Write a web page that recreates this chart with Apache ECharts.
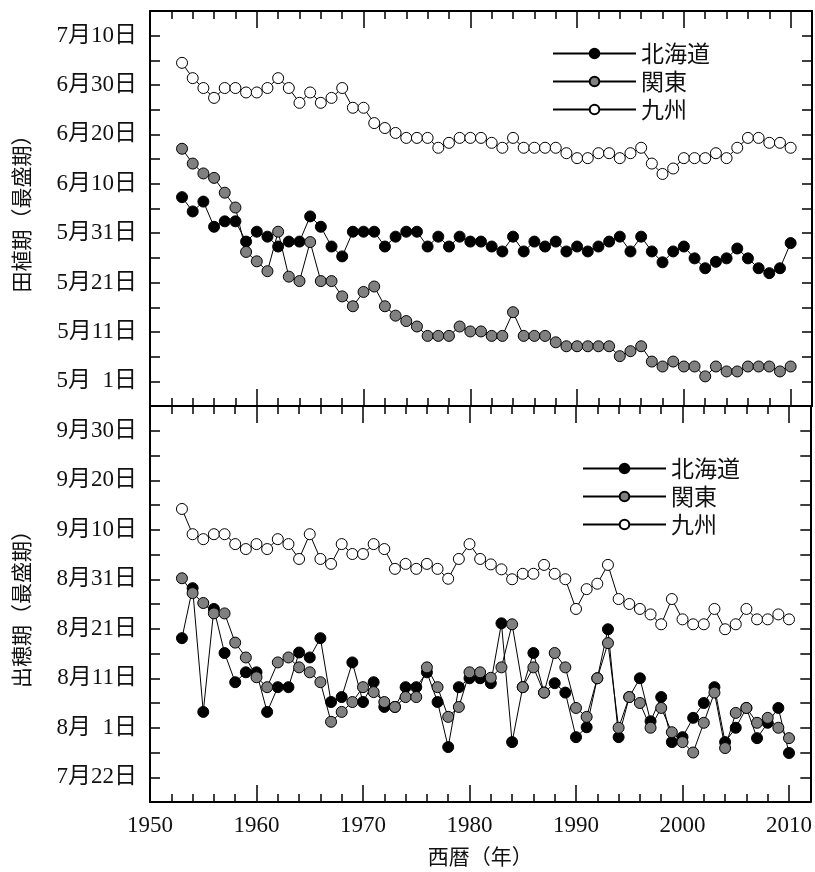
<!DOCTYPE html>
<html lang="ja">
<head>
<meta charset="UTF-8">
<title>田植期・出穂期の推移</title>
<script src="https://cdn.jsdelivr.net/npm/echarts@6/dist/echarts.min.js"></script>
<style>
    * { margin: 0; padding: 0; }
    body { background: #fff; }
    #main { width: 815px; height: 872px; }
</style>
</head>
<body>
<div id="main"></div>
<script>
    // 年（1953〜2010）
    var years = [1953, 1954, 1955, 1956, 1957, 1958, 1959, 1960, 1961, 1962,
        1963, 1964, 1965, 1966, 1967, 1968, 1969, 1970, 1971, 1972,
        1973, 1974, 1975, 1976, 1977, 1978, 1979, 1980, 1981, 1982,
        1983, 1984, 1985, 1986, 1987, 1988, 1989, 1990, 1991, 1992,
        1993, 1994, 1995, 1996, 1997, 1998, 1999, 2000, 2001, 2002,
        2003, 2004, 2005, 2006, 2007, 2008, 2009, 2010];

    // 田植期：5月1日からの日数
    var plantHokkaido = [37.3, 34.4, 36.4, 31.3, 32.4, 32.4, 28.3, 30.3, 29.3, 27.3,
        28.3, 28.3, 33.4, 31.3, 27.3, 25.3, 30.3, 30.3, 30.3, 27.3,
        29.3, 30.3, 30.3, 27.3, 29.3, 27.3, 29.3, 28.3, 28.3, 27.3,
        26.3, 29.3, 26.3, 28.3, 27.3, 28.3, 26.3, 27.3, 26.3, 27.3,
        28.3, 29.3, 26.3, 29.3, 26.3, 24.1, 26.3, 27.3, 24.9, 22.9,
        24.2, 24.9, 26.9, 24.9, 22.9, 21.9, 22.9, 28.0];
    var plantKanto = [47.1, 44.1, 42.1, 41.2, 38.2, 35.2, 26.2, 24.3, 22.3, 30.3,
        21.2, 20.3, 28.2, 20.3, 20.3, 17.2, 15.2, 18.1, 19.2, 15.2,
        13.3, 12.2, 11.1, 9.2, 9.2, 9.2, 11.1, 10.1, 10.1, 9.2,
        9.2, 14.0, 9.2, 9.2, 9.2, 7.9, 7.1, 7.1, 7.1, 7.1,
        7.1, 5.1, 6.1, 7.1, 4.0, 3.0, 4.0, 3.0, 3.0, 1.0,
        3.0, 2.0, 2.0, 3.0, 3.0, 3.0, 2.0, 3.0];
    var plantKyushu = [64.5, 61.4, 59.4, 57.4, 59.4, 59.4, 58.5, 58.5, 59.4, 61.4,
        59.4, 56.4, 58.5, 56.4, 57.4, 59.4, 55.4, 55.4, 52.3, 51.3,
        50.3, 49.3, 49.3, 49.3, 47.3, 48.3, 49.3, 49.3, 49.3, 48.3,
        47.3, 49.3, 47.3, 47.3, 47.3, 47.3, 46.2, 45.2, 45.2, 46.2,
        46.2, 45.2, 46.2, 47.3, 44.1, 42.0, 43.1, 45.2, 45.2, 45.2,
        46.2, 45.2, 47.3, 49.3, 49.3, 48.3, 48.3, 47.3];

    // 出穂期：7月22日からの日数
    var headHokkaido = [28.1, 38.2, 13.2, 34.0, 25.1, 19.2, 21.2, 21.2, 13.2, 18.2,
        18.2, 25.2, 24.2, 28.1, 15.2, 16.2, 23.2, 15.2, 19.2, 14.2,
        14.2, 18.2, 18.2, 21.2, 15.2, 6.1, 18.2, 20.0, 20.0, 19.0,
        31.1, 7.1, 18.2, 25.1, 17.1, 19.0, 17.1, 8.1, 10.1, 20.0,
        29.9, 8.1, 16.2, 20.0, 11.3, 16.2, 7.1, 8.1, 12.0, 15.0,
        18.2, 7.1, 10.0, 14.0, 7.9, 11.0, 14.0, 4.9];
    var headKanto = [40.2, 37.2, 35.2, 33.1, 33.1, 27.2, 24.2, 20.2, 18.2, 23.2,
        24.2, 22.2, 21.2, 19.2, 11.2, 13.2, 15.2, 18.2, 17.2, 15.2,
        14.2, 16.2, 16.2, 22.2, 18.2, 12.2, 14.2, 21.2, 21.2, 20.1,
        22.2, 30.9, 18.2, 22.2, 17.1, 25.1, 22.2, 14.0, 12.2, 20.0,
        27.1, 10.0, 16.2, 15.0, 10.0, 14.0, 9.1, 7.1, 5.0, 11.0,
        17.1, 5.9, 13.0, 14.0, 11.0, 12.0, 10.0, 7.9];
    var headKyushu = [54.2, 49.1, 48.1, 49.1, 49.1, 47.1, 46.1, 47.1, 46.1, 48.1,
        47.1, 44.1, 49.1, 44.1, 43.1, 47.1, 45.1, 45.1, 47.1, 46.1,
        42.1, 43.1, 42.1, 43.1, 42.1, 40.1, 44.1, 47.1, 44.1, 43.0,
        42.0, 40.0, 41.1, 41.1, 42.9, 41.1, 40.0, 34.0, 38.0, 39.1,
        42.9, 36.0, 35.0, 34.0, 32.9, 30.9, 36.0, 31.9, 30.9, 30.9,
        34.0, 29.9, 30.9, 34.0, 31.9, 31.9, 32.9, 31.9];

    // 目盛ラベル（10日ごと）
    var plantTickLabels = ['5月  1日', '5月11日', '5月21日', '5月31日', '6月10日', '6月20日', '6月30日', '7月10日'];
    var headTickLabels = ['7月22日', '8月  1日', '8月11日', '8月21日', '8月31日', '9月10日', '9月20日', '9月30日'];
    var regionNames = ['北海道', '関東', '九州'];
    var regionFills = ['#000000', '#808080', '#ffffff'];

    var serifFont = '"Liberation Serif", "Noto Sans CJK JP", serif';
    var cjkFont = '"Noto Sans CJK JP", sans-serif';

    function pairs(vals) {
        return years.map(function (y, i) { return [y, vals[i]]; });
    }

    // x軸：短い目盛(2年)と長い目盛(10年)を重ねる
    function xAxes(gridIndex, position, withLabel) {
        var minor = {
            type: 'value', gridIndex: gridIndex, position: position,
            min: 1950, max: 2012, interval: 2,
            axisLine: { show: true, onZero: false, lineStyle: { color: '#000', width: 2 } },
            axisTick: { show: true, inside: true, length: 8, lineStyle: { color: '#000', width: 1.5 } },
            axisLabel: { show: false },
            splitLine: { show: false }
        };
        var major = {
            type: 'value', gridIndex: gridIndex, position: position,
            min: 1950, max: 2012, interval: 10,
            axisLine: { show: false, onZero: false },
            axisTick: { show: true, inside: true, length: 17, lineStyle: { color: '#000', width: 1.5 } },
            axisLabel: {
                show: withLabel, margin: 12, color: '#111',
                fontFamily: serifFont, fontSize: 23,
                formatter: function (v) { return v <= 2010 ? String(v) : ''; }
            },
            splitLine: { show: false }
        };
        if (withLabel) {
            major.name = '西暦（年）';
            major.nameLocation = 'middle';
            major.nameGap = 44;
            major.nameTextStyle = { fontFamily: cjkFont, fontSize: 21, color: '#111' };
        }
        return [minor, major];
    }

    function yAxis(gridIndex, position, labels, title) {
        var ax = {
            type: 'value', gridIndex: gridIndex, position: position,
            min: -5, max: 75, interval: 5,
            axisLine: { show: true, lineStyle: { color: '#000', width: 2 } },
            axisTick: { show: true, inside: true, length: 10, lineStyle: { color: '#000', width: 1.5 } },
            axisLabel: { show: false },
            splitLine: { show: false }
        };
        if (labels) {
            ax.axisLabel = {
                show: true, margin: 13, color: '#111',
                fontFamily: serifFont, fontSize: 23,
                formatter: function (v) {
                    return (v >= 0 && v % 10 === 0) ? labels[v / 10] : '';
                }
            };
            ax.name = title;
            ax.nameLocation = 'middle';
            ax.nameRotate = 90;
            ax.nameGap = 118;
            ax.nameTextStyle = { fontFamily: cjkFont, fontSize: 21, color: '#111' };
        }
        return ax;
    }

    function makeSeries(name, vals, fill, xIdx, yIdx) {
        return {
            name: name, type: 'line', xAxisIndex: xIdx, yAxisIndex: yIdx,
            data: pairs(vals),
            symbol: 'circle', symbolSize: 11,
            lineStyle: { color: '#000', width: 1 },
            itemStyle: { color: fill, borderColor: '#000', borderWidth: 1 },
            emphasis: { disabled: true }
        };
    }

    function legend(left, top) {
        return {
            left: left, top: top, orient: 'vertical',
            itemWidth: 83, itemHeight: 12, itemGap: 5,
            data: regionNames,
            textStyle: { fontFamily: cjkFont, fontSize: 23, color: '#111' }
        };
    }

    var chart = echarts.init(document.getElementById('main'));

    var xAxisList = [].concat(
        xAxes(0, 'bottom', false), xAxes(0, 'top', false),
        xAxes(1, 'bottom', true), xAxes(1, 'top', false)
    );

    chart.setOption({
        animation: false,
        backgroundColor: '#fff',
        grid: [
            { left: 150, right: 3, top: 11, height: 395 },
            { left: 150, right: 3, top: 406, height: 396 }
        ],
        legend: [legend(547, 37), legend(577, 452)],
        xAxis: xAxisList,
        yAxis: [
            yAxis(0, 'left', plantTickLabels, '田植期（最盛期）'),
            yAxis(0, 'right', null),
            yAxis(1, 'left', headTickLabels, '出穂期（最盛期）'),
            yAxis(1, 'right', null)
        ],
        series: [
            makeSeries(regionNames[0], plantHokkaido, regionFills[0], 0, 0),
            makeSeries(regionNames[1], plantKanto, regionFills[1], 0, 0),
            makeSeries(regionNames[2], plantKyushu, regionFills[2], 0, 0),
            makeSeries(regionNames[0], headHokkaido, regionFills[0], 4, 2),
            makeSeries(regionNames[1], headKanto, regionFills[1], 4, 2),
            makeSeries(regionNames[2], headKyushu, regionFills[2], 4, 2)
        ]
    });
</script>
</body>
</html>
